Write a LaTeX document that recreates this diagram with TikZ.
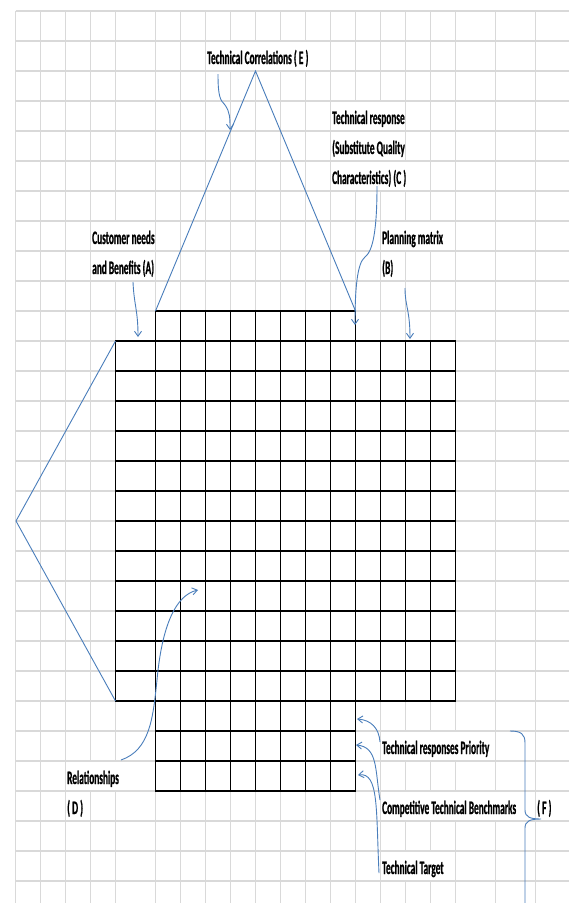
\documentclass[tikz,border=0pt]{standalone}
\usepackage{fontspec}
\newfontfamily\labfont{Carlito}[FakeStretch=0.49,BoldFeatures={FakeStretch=0.49,FakeBold=0.8}]
\usetikzlibrary{arrows.meta}
\definecolor{gridgray}{RGB}{217,217,217}
\definecolor{lineblue}{RGB}{74,126,187}
\begin{document}
\begin{tikzpicture}[x=1pt,y=-1pt,
  gridline/.style={draw=gridgray,line width=1.3pt},
  matline/.style={draw=black,line width=1.8pt,line cap=rect},
  blueline/.style={draw=lineblue,line width=0.9pt},
  pointer/.style={blueline,-{Straight Barb[length=5pt,width=7pt]}},
  lbl/.style={font=\labfont\bfseries\fontsize{19}{19}\selectfont,anchor=base west,
    inner sep=0pt,fill=white,text height=22pt,text depth=6pt}]
\useasboundingbox (0,0) rectangle (569,903);
\fill[white] (0,0) rectangle (569,903);
% sheet grid
\foreach \x in {15.5,40.5,65.5,90.5,115.5,155.5,180.5,205.5,230.5,255.5,280.5,305.5,330.5,355.5,380.5,405.5,430.5,455.5,495.5,535.5}
  \draw[gridline] (\x,11) -- (\x,903);
\foreach \k in {0,...,29}
  \draw[gridline] (15.5,{11+30*\k}) -- (569,{11+30*\k});
% labels
\node[lbl] (E) at (207,64) {Technical Correlations ( E )};
\node[lbl] (C1) at (332,124) {Technical response};
\node[lbl] (C2) at (332,154) {(Substitute Quality};
\node[lbl] (C3) at (332,184) {Characteristics) (C )};
\node[lbl] (A1) at (92,244) {Customer needs};
\node[lbl] (A2) at (92,274) {and Benefits (A)};
\node[lbl] (B1) at (382,244) {Planning matrix};
\node[lbl] (B2) at (382,274) {(B)};
\node[lbl] (P) at (382,754) {Technical responses Priority};
\node[lbl] (R1) at (67,784) {Relationships};
\node[lbl] (R2) at (67,814) {( D )};
\node[lbl] (CB) at (382,814) {Competitive Technical Benchmarks};
\node[lbl] (F) at (537,814) {( F )};
\node[lbl] (T) at (382,874) {Technical Target};
% matrix
\foreach \k in {0,...,8}
  \draw[matline] ({155.5+25*\k},311) -- ({155.5+25*\k},791);
\foreach \k in {9,...,12}
  \draw[matline] ({155.5+25*\k},341) -- ({155.5+25*\k},701);
\draw[matline] (115.5,341) -- (115.5,701);
\draw[matline] (155.5,311) -- (355.5,311);
\foreach \j in {0,...,12}
  \draw[matline] (115.5,{341+30*\j}) -- (455.5,{341+30*\j});
\foreach \j in {1,2,3}
  \draw[matline] (155.5,{701+30*\j}) -- (355.5,{701+30*\j});
% roof and left wall
\coordinate (apex) at (255.5,71);
\coordinate (roofL) at (155.5,311);
\coordinate (roofR) at (355.5,311);
\draw[blueline] (roofL) -- (apex) -- (roofR);
\coordinate (wallT) at (115.5,341);
\coordinate (wallV) at (16,521);
\coordinate (wallB) at (115.5,701);
\draw[blueline] (wallT) -- (wallV) -- (wallB);
% pointers
\coordinate (eS) at (218,74);   \coordinate (eM) at (225,105);  \coordinate (eE) at (230,130);
\draw[pointer] (eS) .. controls (218,96) and (220,100) .. (eM) .. controls (230,112) and (230,118) .. (eE);
\coordinate (cS) at (377,186);  \coordinate (cM) at (365,257);  \coordinate (cE) at (355,325);
\draw[pointer] (cS) .. controls (377,230) and (373,251) .. (cM) .. controls (357,263) and (355,290) .. (cE);
\coordinate (bS) at (405,288);  \coordinate (bE) at (410,339);
\draw[pointer] (bS) .. controls (405,306) and (410,310) .. (bE);
\coordinate (aS) at (133,282);  \coordinate (aE) at (138,337);
\draw[pointer] (aS) .. controls (134,305) and (138,310) .. (aE);
\coordinate (dS) at (121,760);  \coordinate (dM) at (157,680);  \coordinate (dE) at (198,590);
\draw[pointer] (dS) .. controls (150,750) and (153,718) .. (dM) .. controls (162,625) and (176,595) .. (dE);
\coordinate (pS) at (380,742);  \coordinate (pE) at (357,719);
\draw[pointer] (pS) .. controls (379,728) and (371,720) .. (pE);
\coordinate (kS) at (380,800);  \coordinate (kE) at (356,745);
\draw[pointer] (kS) .. controls (375,770) and (378,747) .. (kE);
\coordinate (tS) at (379,873);  \coordinate (tE) at (358,775);
\draw[pointer] (tS) .. controls (376,810) and (379,772) .. (tE);
% brace (F)
\coordinate (brT) at (510,731);
\coordinate (brTip) at (541,819);
\coordinate (brB) at (525,903);
\draw[blueline] (brT) .. controls (521,731) and (525,734) .. (525,743) -- (525,810)
  .. controls (525,817) and (530,819) .. (brTip)
  .. controls (530,819) and (525,821) .. (525,828) -- (brB);
\end{tikzpicture}
\end{document}
